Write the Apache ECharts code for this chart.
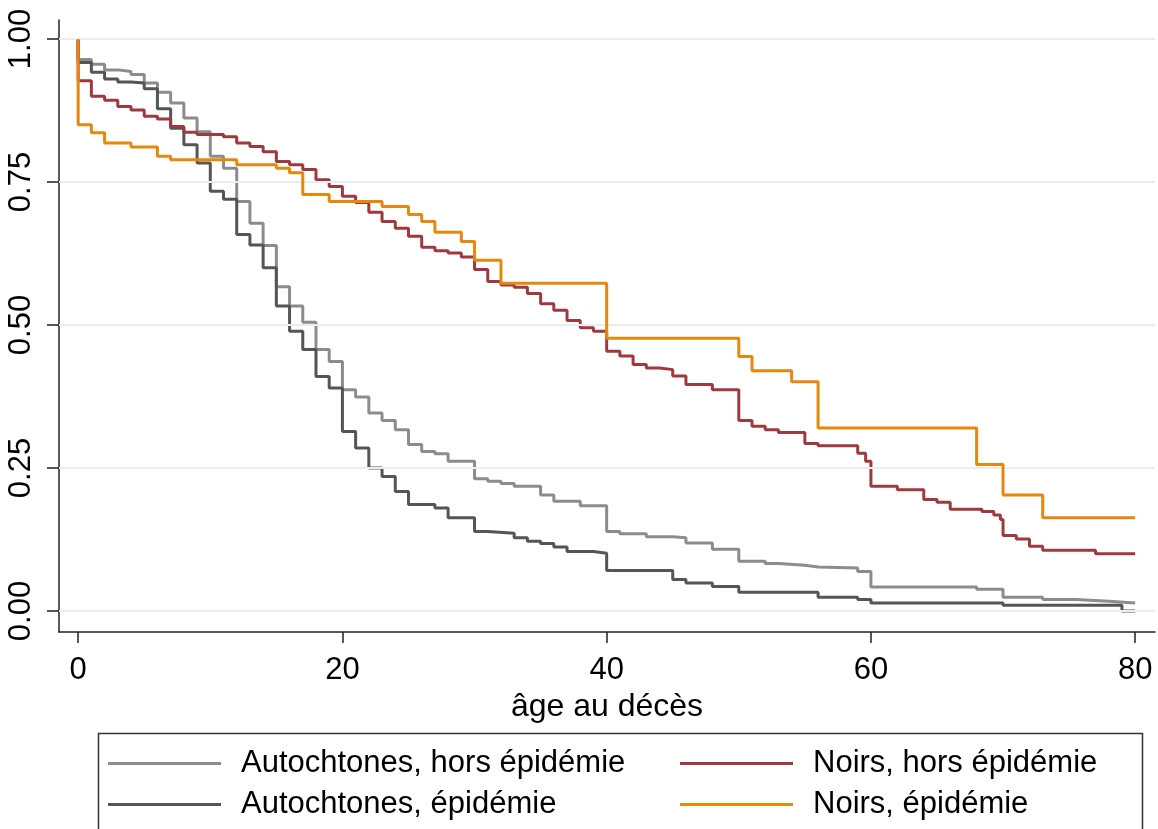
<!DOCTYPE html>
<html>
<head>
<meta charset="utf-8">
<script src="https://cdn.jsdelivr.net/npm/echarts@6/dist/echarts.min.js"></script>
<style>
html,body{margin:0;padding:0;background:#fff;}
#chart{width:1158px;height:829px;}
</style>
</head>
<body>
<div id="chart"></div>
<script>
// Tick labels
const xTicks = [0, 20, 40, 60, 80];
const yTicks = [0, 0.25, 0.5, 0.75, 1];

// Series names
const names = [
  'Autochtones, hors épidémie',
  'Autochtones, épidémie',
  'Noirs, hors épidémie',
  'Noirs, épidémie'
];

// Autochtones, hors épidémie (Kaplan-Meier step: age, survival)
const autoHorsAge = [0, 0, 1, 2, 3, 4, 5, 6, 7, 8, 9, 10, 11, 12, 13, 14, 15, 16, 17, 18, 19, 20, 21, 22, 23, 24, 25, 26, 27, 28, 30, 31, 32, 33, 35, 36, 38, 40, 41, 43, 45, 46, 48, 50, 52, 53, 55, 56, 59, 60, 68, 70, 73, 75.5, 78, 80];
const autoHorsVal = [1, 0.964, 0.956, 0.946, 0.943, 0.938, 0.923, 0.907, 0.888, 0.862, 0.838, 0.795, 0.774, 0.716, 0.678, 0.639, 0.567, 0.533, 0.505, 0.457, 0.436, 0.387, 0.374, 0.346, 0.333, 0.317, 0.291, 0.279, 0.275, 0.262, 0.231, 0.227, 0.223, 0.218, 0.203, 0.192, 0.184, 0.139, 0.135, 0.130, 0.128, 0.119, 0.108, 0.087, 0.083, 0.080, 0.077, 0.075, 0.069, 0.042, 0.038, 0.024, 0.020, 0.017, 0.014, 0.014];

// Autochtones, épidémie
const autoEpiAge = [0, 0, 1, 2, 3, 4, 5, 6, 7, 8, 9, 10, 11, 12, 13, 14, 15, 16, 17, 18, 19, 20, 21, 22, 23, 24, 25, 27, 28, 30, 31, 33, 34, 35, 36, 37, 39, 40, 45, 46, 48, 50, 56, 59, 60, 70, 79, 80];
const autoEpiVal = [1, 0.959, 0.942, 0.930, 0.925, 0.923, 0.913, 0.878, 0.844, 0.815, 0.783, 0.734, 0.720, 0.658, 0.640, 0.600, 0.533, 0.489, 0.457, 0.410, 0.390, 0.314, 0.285, 0.250, 0.235, 0.209, 0.186, 0.180, 0.163, 0.139, 0.136, 0.128, 0.122, 0.118, 0.112, 0.104, 0.101, 0.071, 0.055, 0.049, 0.043, 0.033, 0.024, 0.020, 0.014, 0.010, 0.0, 0.0];

// Noirs, hors épidémie
const noirsHorsAge = [0, 0, 1, 2, 3, 4, 5, 6, 7, 8, 9, 11, 12, 13, 14, 15, 16, 17, 18, 19, 20, 21, 22, 23, 24, 25, 26, 27, 28, 29, 30, 31, 32, 33, 34, 35, 36, 37, 38, 39, 40, 41, 42, 43, 44, 45, 46, 48, 50, 51, 52, 53, 55, 56, 59, 59.6, 60, 62, 64, 65, 66, 68.4, 69.3, 69.8, 70, 71, 72, 73, 77, 80];
const noirsHorsVal = [1, 0.927, 0.900, 0.893, 0.882, 0.876, 0.865, 0.860, 0.847, 0.837, 0.833, 0.829, 0.818, 0.812, 0.803, 0.786, 0.780, 0.772, 0.754, 0.742, 0.725, 0.714, 0.697, 0.681, 0.669, 0.655, 0.636, 0.630, 0.626, 0.619, 0.597, 0.576, 0.570, 0.566, 0.555, 0.537, 0.526, 0.508, 0.495, 0.489, 0.454, 0.446, 0.431, 0.425, 0.422, 0.411, 0.396, 0.387, 0.333, 0.323, 0.317, 0.312, 0.293, 0.289, 0.276, 0.262, 0.218, 0.212, 0.195, 0.190, 0.178, 0.174, 0.168, 0.160, 0.132, 0.126, 0.113, 0.106, 0.100, 0.100];

// Noirs, épidémie
const noirsEpiAge = [0, 0, 1, 2, 4, 6, 7, 12, 15, 16, 17, 19, 23, 25, 26, 27, 29, 30, 32, 40, 50, 51, 54, 56, 68, 70, 73, 80];
const noirsEpiVal = [1, 0.850, 0.836, 0.818, 0.811, 0.795, 0.789, 0.780, 0.774, 0.766, 0.728, 0.716, 0.707, 0.693, 0.681, 0.662, 0.646, 0.613, 0.573, 0.477, 0.445, 0.420, 0.401, 0.320, 0.256, 0.203, 0.163, 0.163];

const colors = ['#8c8c8c', '#555555', '#a0393e', '#e8870e'];

function pairs(a, v) { return a.map((x, i) => [x, v[i]]); }
const seriesData = [
  pairs(autoHorsAge, autoHorsVal),
  pairs(autoEpiAge, autoEpiVal),
  pairs(noirsHorsAge, noirsHorsVal),
  pairs(noirsEpiAge, noirsEpiVal)
];

const FONT = '"Liberation Sans", Arial, sans-serif';
const chart = echarts.init(document.getElementById('chart'), null, {renderer: 'canvas'});

const series = [{
  type: 'line',
  name: '__grid',
  data: [],
  silent: true,
  z: 0,
  markLine: {
    silent: true,
    symbol: 'none',
    label: {show: false},
    lineStyle: {color: '#e6eef1', width: 2, type: 'solid'},
    data: yTicks.map(v => ({yAxis: v}))
  }
}].concat(seriesData.map((d, i) => ({
  type: 'line',
  name: names[i],
  data: d,
  step: 'end',
  showSymbol: false,
  symbol: 'none',
  z: 2 + i,
  lineStyle: {color: colors[i], width: 3},
  itemStyle: {color: colors[i]}
})));

const legendCommon = {
  orient: 'vertical',
  icon: 'rect',
  itemWidth: 113,
  itemHeight: 3,
  itemGap: 10,
  padding: 0,
  selectedMode: false,
  textStyle: {fontFamily: FONT, fontSize: 31, color: '#000', lineHeight: 31, padding: [0, 0, 0, 15]}
};

chart.setOption({
  animation: false,
  backgroundColor: '#fff',
  grid: {left: 59, right: 3, top: 20, bottom: 197, containLabel: false},
  xAxis: {
    type: 'value',
    min: -1.45,
    max: 81.5,
    name: 'âge au décès',
    nameLocation: 'middle',
    nameGap: 48,
    nameTextStyle: {fontFamily: FONT, fontSize: 32, color: '#000'},
    axisLine: {show: true, onZero: false, lineStyle: {color: '#222', width: 1.5}},
    axisTick: {show: true, customValues: xTicks, length: 11, lineStyle: {color: '#222', width: 1.5}},
    axisLabel: {customValues: xTicks, margin: 23, fontFamily: FONT, fontSize: 31, color: '#000'},
    splitLine: {show: false}
  },
  yAxis: {
    type: 'value',
    min: -0.0367,
    max: 1.0332,
    axisLine: {show: true, onZero: false, lineStyle: {color: '#222', width: 1.5}},
    axisTick: {show: true, customValues: yTicks, length: 12, lineStyle: {color: '#222', width: 1.5}},
    axisLabel: {customValues: yTicks, rotate: 90, margin: 22, fontFamily: FONT, fontSize: 31, color: '#000',
      formatter: v => v.toFixed(2)},
    splitLine: {show: false}
  },
  legend: [
    Object.assign({}, legendCommon, {left: 108, top: 748, data: [names[0], names[1]]}),
    Object.assign({}, legendCommon, {left: 680, top: 748, data: [names[2], names[3]]})
  ],
  graphic: [{
    type: 'rect',
    left: 96,
    top: 731,
    shape: {width: 1044, height: 130},
    style: {fill: 'none', stroke: '#333', lineWidth: 1.5},
    silent: true
  }],
  series: series
});
</script>
</body>
</html>
